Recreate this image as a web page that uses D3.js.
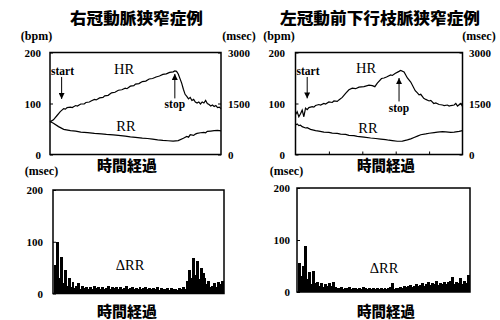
<!DOCTYPE html>
<html>
<head>
<meta charset="utf-8">
<script src="https://cdn.jsdelivr.net/npm/d3@7"></script>
<style>
  html, body { margin: 0; padding: 0; background: #fff; }
  svg { display: block; }
</style>
</head>
<body>
<svg id="chart" width="500" height="320"></svg>
<script>
// ---- data (time axis is 0..100 % of the exercise record) ----
const titles = ["右冠動脈狭窄症例", "左冠動前下行枝脈狭窄症例"];
const xLabel = "時間経過";

// right coronary case: [t, bpm] and [t, msec]
const hrRight = [[0,64],[2,68],[4,76],[6,84],[8,90],[9,89],[10,92],[12,93],[13,92],[15,96],[16,95],[18,99],[20,99],[21,102],[23,103],[24,105],[26,108],[27,107],[29,111],[31,112],[32,115],[34,116],[36,121],[38,122],[40,126],[42,127],[44,130],[45,129],[47,134],[49,135],[50,138],[52,139],[54,143],[56,144],[58,148],[60,149],[62,152],[64,154],[66,157],[68,158],[70,161],[72,162],[73,164],[74,163],[75,158],[77,140],[78,128],[79,118],[80,114],[81,109],[82,112],[83,106],[84,108],[85,103],[86,101],[87,103],[88,99],[89,103],[90,101],[91,106],[92,100],[93,98],[94,95],[95,97],[96,94],[97,96],[98,92],[99,93],[100,90]];
const rrRight = [[0,970],[2,920],[5,820],[8,740],[12,700],[15,690],[18,660],[22,645],[26,620],[30,605],[33,590],[37,575],[40,560],[44,540],[47,520],[50,505],[54,480],[57,470],[60,450],[63,430],[66,415],[69,405],[72,395],[75,410],[78,480],[80,530],[81,510],[82,580],[84,560],[85,600],[86,620],[88,640],[90,650],[91,640],[92,680],[94,690],[96,700],[98,710],[100,695]];

// left anterior descending case
const hrLeft = [[0,78],[1,84],[2,74],[3,80],[4,87],[5,74],[6,91],[7,88],[8,92],[10,94],[11,93],[12,96],[14,98],[15,97],[17,100],[18,99],[20,103],[22,102],[23,105],[25,104],[26,107],[28,112],[30,120],[32,127],[34,130],[36,129],[38,132],[41,133],[44,136],[46,135],[47.5,133],[49,140],[51.5,149],[53,150],[54.5,152],[57,156],[58,155],[59.6,159],[62,163],[63,165],[65,162],[67,150],[69,142],[71.7,125],[73,121],[74,117],[75,118],[76.8,110],[78,108],[80,105],[81,106],[82.8,100],[84,101],[86,98],[88,97],[89,96],[91,97],[92,95],[93,96],[95,97],[96,100],[97,95],[99,100],[100,94]];
const rrLeft = [[0,870],[1,900],[2,850],[3,860],[4,820],[6,780],[7,790],[9,740],[12,700],[14,690],[17,660],[20,650],[22,630],[25,620],[27,600],[30,590],[32,565],[35,555],[37,535],[41,510],[45,485],[48,470],[51,455],[54,440],[56,420],[58,410],[61,390],[64,395],[67,430],[69,460],[71,500],[73,540],[75,580],[78,605],[80,625],[83,645],[85,660],[88,670],[90,665],[93,650],[95,660],[98,680],[100,700]];

// ΔRR (msec), one value per sample
const dRRRight = [55,99,30,70,20,45,15,30,12,22, 10,14,20,8,15,10,13,9,12,8, 14,10,12,8,13,9,11,14,8,12, 10,13,9,12,8,11,14,9,10,12, 8,11,9,13,8,10,12,8,11,9, 10,8,12,7,10,9,8,11,7,10, 8,9,7,10,8,12,9,25,45,30, 68,35,62,28,50,40,30,18,25,12, 15,20,12,22,18,24];
const dRRLeft = [55,30,50,88,25,38,15,40,18,20, 12,17,10,15,12,18,11,20,9,8, 7,10,6,8,7,9,6,8,7,6, 8,6,9,7,6,8,5,7,6,8, 6,7,5,8,6,7,9,18,6,8, 7,10,8,12,9,11,14,10,12,15, 11,14,18,12,16,20,13,17,15,22, 14,18,16,20,15,19,22,28,16,20, 18,26,15,22,18,32];

// start / stop marks: [t, bpm from, bpm to]
const startRight = [6.8, 152, 109], stopRight = [73, 110, 158];
const startLeft = [7, 152, 110], stopLeft = [62, 104, 150];

const hrTicks = [0, 100, 200];
const rrTicks = [0, 1500, 3000];
const dRRTicks = [0, 100, 200];
const timeTicks = [20, 40, 60, 80];

// ---- drawing ----
const svg = d3.select("#chart");
const jp = "'Noto Sans CJK JP', 'Noto Sans CJK SC', sans-serif";
const serif = "'Liberation Serif', 'DejaVu Serif', serif";

svg.append("defs").append("marker")
  .attr("id", "head")
  .attr("viewBox", "0 0 10 10")
  .attr("refX", 10).attr("refY", 5)
  .attr("markerWidth", 6).attr("markerHeight", 6)
  .attr("markerUnits", "userSpaceOnUse")
  .attr("orient", "auto")
  .append("path")
    .attr("d", "M0,0 L10,5 L0,10 z")
    .attr("fill", "#000");

function jpText(x, y, txt, size, len) {
  const t = svg.append("text")
    .attr("x", x).attr("y", y)
    .attr("text-anchor", "middle")
    .style("font-family", jp)
    .style("font-weight", "900")
    .style("font-size", size + "px")
    .text(txt);
  if (len) t.attr("textLength", len).attr("lengthAdjust", "spacingAndGlyphs");
}

function serifText(g, x, y, txt, size, bold, anchor) {
  g.append("text")
    .attr("x", x).attr("y", y)
    .attr("text-anchor", anchor || "middle")
    .style("font-family", serif)
    .style("font-weight", bold ? "bold" : "normal")
    .style("font-size", size + "px")
    .text(txt);
}

function styleAxis(g) {
  g.select(".domain").remove();
  g.selectAll("line").attr("stroke", "#000").attr("stroke-width", 1);
  g.selectAll("text")
    .style("font-family", serif)
    .style("font-weight", "bold")
    .style("font-size", "11px")
    .attr("fill", "#000");
}

// top panel: HR (left axis) and RR (right axis)
function hrPanel(p) {
  const x = d3.scaleLinear().domain([0, 100]).range([p.x0, p.x1]);
  const yHR = d3.scaleLinear().domain([0, 200]).range([p.y1, p.y0]);
  const yRR = d3.scaleLinear().domain([0, 3000]).range([p.y1, p.y0]);
  const g = svg.append("g");

  const line = (ys) => d3.line().x(d => x(d[0])).y(d => ys(d[1]));
  g.append("path").datum(p.hr)
    .attr("d", line(yHR))
    .attr("fill", "none").attr("stroke", "#000").attr("stroke-width", 1.2);
  g.append("path").datum(p.rr)
    .attr("d", line(yRR))
    .attr("fill", "none").attr("stroke", "#000").attr("stroke-width", 1.2);

  g.append("g")
    .attr("transform", `translate(${p.x0},0)`)
    .call(d3.axisLeft(yHR).tickValues(hrTicks).tickSize(-3).tickPadding(p.padL).tickFormat(d3.format("d")))
    .call(styleAxis);
  g.append("g")
    .attr("transform", `translate(${p.x1},0)`)
    .call(d3.axisRight(yRR).tickValues(rrTicks).tickSize(-3).tickPadding(p.padR).tickFormat(d3.format("d")))
    .call(styleAxis);
  if (p.timeTicks) {
    g.append("g")
      .attr("transform", `translate(0,${p.y1})`)
      .call(d3.axisBottom(x).tickValues(timeTicks).tickSize(-3).tickFormat(""))
      .call(styleAxis);
  }

  g.append("rect")
    .attr("x", p.x0).attr("y", p.y0)
    .attr("width", p.x1 - p.x0).attr("height", p.y1 - p.y0)
    .attr("fill", "none").attr("stroke", "#000").attr("stroke-width", 1.5);

  // start / stop arrows
  [p.start, p.stop].forEach(a => {
    g.append("line")
      .attr("x1", x(a[0])).attr("y1", yHR(a[1]))
      .attr("x2", x(a[0])).attr("y2", yHR(a[2]))
      .attr("stroke", "#000").attr("stroke-width", 1)
      .attr("marker-end", "url(#head)");
  });
  serifText(g, p.x0 + 1, 74.5, "start", 11.5, true, "start");
  serifText(g, x(p.stop[0]), p.stopY, "stop", 11.5, true);

  serifText(g, p.hrLabel[0], p.hrLabel[1], "HR", 14.5, false);
  serifText(g, p.rrLabel[0], p.rrLabel[1], "RR", 14.5, false);

  serifText(g, p.unitL, 40, "(bpm)", 12, true);
  serifText(g, p.unitR, 40, "(msec)", 12, true);
}

// bottom panel: ΔRR drawn as dense thin bars
function dRRPanel(p) {
  const x = d3.scaleBand().domain(d3.range(p.values.length)).range([p.x0 + 0.8, p.x1 - 0.8]).padding(0);
  const y = d3.scaleLinear().domain([0, 200]).range([p.y1, p.y0]);
  const g = svg.append("g");

  g.append("g")
    .attr("shape-rendering", "crispEdges")
    .selectAll("rect")
    .data(p.values)
    .enter()
      .append("rect")
      .attr("x", (d, i) => x(i))
      .attr("width", x.bandwidth() + 1)
      .attr("y", d => y(d))
      .attr("height", d => y(0) - y(d))
      .attr("fill", "#000");

  g.append("g")
    .attr("transform", `translate(${p.x0},0)`)
    .call(d3.axisLeft(y).tickValues(dRRTicks).tickSize(-3).tickPadding(p.padL))
    .call(styleAxis);

  g.append("rect")
    .attr("x", p.x0).attr("y", p.y0)
    .attr("width", p.x1 - p.x0).attr("height", p.y1 - p.y0)
    .attr("fill", "none").attr("stroke", "#000").attr("stroke-width", 1.5);

  serifText(g, p.label[0], p.label[1], "ΔRR", 14.5, false);
  serifText(g, p.unit, 175, "(msec)", 12, true);
}

jpText(136.5, 24, titles[0], 15.5, 133);
jpText(380, 24, titles[1], 15.5, 200);

hrPanel({x0: 50, x1: 221, y0: 52.5, y1: 154.5, hr: hrRight, rr: rrRight,
  start: startRight, stop: stopRight, stopY: 108, padL: 9, padR: 7,
  hrLabel: [124, 74], rrLabel: [126, 131], unitL: 36.5, unitR: 239, timeTicks: false});
hrPanel({x0: 295.5, x1: 462.5, y0: 52.5, y1: 154.5, hr: hrLeft, rr: rrLeft,
  start: startLeft, stop: stopLeft, stopY: 112, padL: 10.5, padR: 6.5,
  hrLabel: [366, 73], rrLabel: [368, 133], unitL: 279, unitR: 479, timeTicks: true});

jpText(127, 171, xLabel, 14.5, 60);
jpText(386, 171, xLabel, 14.5, 58);

dRRPanel({x0: 53, x1: 224, y0: 190, y1: 293.5, values: dRRRight, padL: 10,
  label: [130, 270], unit: 41.5});
dRRPanel({x0: 297, x1: 470, y0: 188, y1: 292, values: dRRLeft, padL: 7,
  label: [384, 273], unit: 286.5});

jpText(127, 317, xLabel, 14.5, 60);
jpText(386, 317, xLabel, 14.5, 58);
</script>
</body>
</html>
